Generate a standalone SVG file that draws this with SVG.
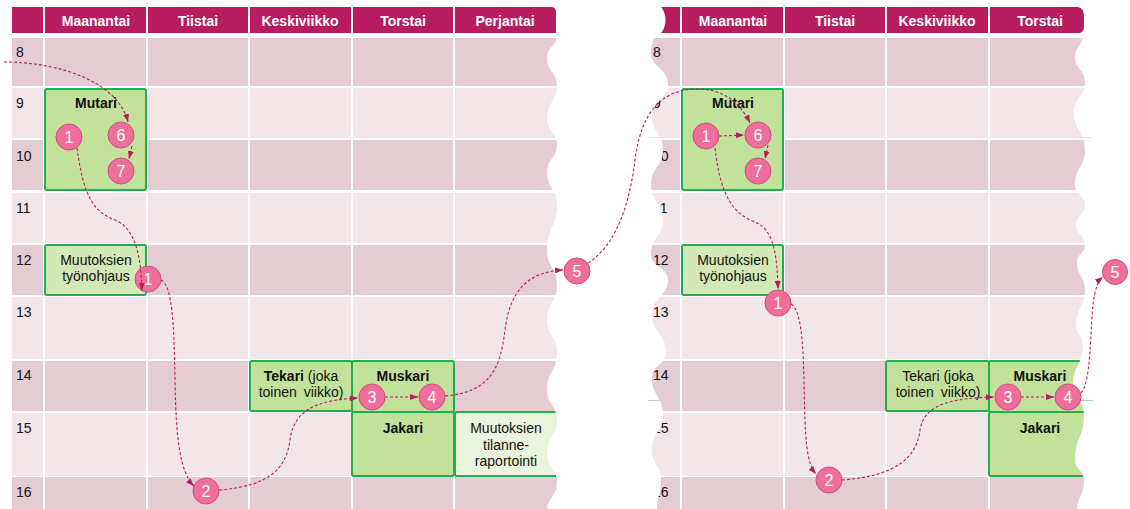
<svg xmlns="http://www.w3.org/2000/svg" width="1130" height="509" viewBox="0 0 1130 509">
<defs>
<style>
.hd{fill:#b71c5f}
.dk{fill:#e5cbd2}
.lt{fill:#f3e6e9}
.gap{stroke:#fff;stroke-width:2}
.ht{font-family:"Liberation Sans",Arial,sans-serif;font-size:14px;font-weight:bold;fill:#fff;text-anchor:middle}
.rl{font-family:"Liberation Sans",Arial,sans-serif;font-size:14px;fill:#111}
.box{fill:#c2e29b;stroke:#22ad50;stroke-width:2}
.box2{fill:#d3e8b4;stroke:#22ad50;stroke-width:2}
.box3{fill:#eaf4dd;stroke:#22ad50;stroke-width:2}
.bt{font-family:"Liberation Sans",Arial,sans-serif;font-size:14px;fill:#111;text-anchor:middle}
.b{font-weight:bold}
.cir{fill:#f06e9b;stroke:#c8507e;stroke-width:1}
.ct{font-family:"Liberation Sans",Arial,sans-serif;font-size:16px;fill:#fff;text-anchor:middle}
.arr{fill:none;stroke:#b81d62;stroke-width:1.1;stroke-dasharray:3 2;marker-end:url(#ah)}
.wh{fill:#fff}
</style>
<marker id="ah" viewBox="0 0 8 6" refX="8" refY="3" markerWidth="8" markerHeight="6" markerUnits="userSpaceOnUse" orient="auto"><path d="M0,0 L8,3 L0,6 z" fill="#b81d62"/></marker>
</defs>
<rect width="1130" height="509" fill="#fff"/>

<g id="table-left">
  <rect class="hd" x="12" y="7" width="31" height="26"/>
  <rect class="hd" x="45" y="7" width="101" height="26"/>
  <rect class="hd" x="148" y="7" width="100" height="26"/>
  <rect class="hd" x="250" y="7" width="101" height="26"/>
  <rect class="hd" x="353" y="7" width="100" height="26"/>
  <path class="hd" d="M455,7 L551,7 Q556,7 556,12 L556,33 L455,33 Z"/>
  <text class="ht" x="96" y="26">Maanantai</text>
  <text class="ht" x="198" y="26">Tiistai</text>
  <text class="ht" x="300" y="26">Keskiviikko</text>
  <text class="ht" x="403" y="26">Torstai</text>
  <text class="ht" x="505" y="26">Perjantai</text>
  <rect class="dk" x="12" y="38" width="550" height="48"/>
  <rect class="lt" x="12" y="88" width="550" height="50"/>
  <rect class="dk" x="12" y="140" width="550" height="50"/>
  <rect class="lt" x="12" y="193" width="550" height="50"/>
  <rect class="dk" x="12" y="245" width="550" height="50"/>
  <rect class="lt" x="12" y="297" width="550" height="62"/>
  <rect class="dk" x="12" y="361" width="550" height="50"/>
  <rect class="lt" x="12" y="413" width="550" height="63"/>
  <rect class="dk" x="12" y="477" width="550" height="35"/>
  <g class="gap">
    <line x1="44" y1="36" x2="44" y2="509"/>
    <line x1="147" y1="36" x2="147" y2="509"/>
    <line x1="249" y1="36" x2="249" y2="509"/>
    <line x1="352" y1="36" x2="352" y2="509"/>
    <line x1="454" y1="36" x2="454" y2="509"/>
  </g>
  <text class="rl" x="16" y="57">8</text>
  <text class="rl" x="16" y="108">9</text>
  <text class="rl" x="16" y="161">10</text>
  <text class="rl" x="16" y="213">11</text>
  <text class="rl" x="16" y="265">12</text>
  <text class="rl" x="16" y="317">13</text>
  <text class="rl" x="16" y="380">14</text>
  <text class="rl" x="16" y="433">15</text>
  <text class="rl" x="16" y="497">16</text>
</g>

<g id="table-right">
  <path class="hd" d="M680,7 L661,7 C667,14 667,26 661,33 L680,33 Z"/>
  <rect class="hd" x="682" y="7" width="101" height="26"/>
  <rect class="hd" x="785" y="7" width="100" height="26"/>
  <rect class="hd" x="887" y="7" width="101" height="26"/>
  <path class="hd" d="M990,7 L1078,7 Q1084,8 1084,16 L1084,26 Q1084,33 1079,33 L990,33 Z"/>
  <text class="ht" x="733" y="26">Maanantai</text>
  <text class="ht" x="835" y="26">Tiistai</text>
  <text class="ht" x="937" y="26">Keskiviikko</text>
  <text class="ht" x="1040" y="26">Torstai</text>
  <rect class="dk" x="645" y="38" width="450" height="48"/>
  <rect class="lt" x="645" y="88" width="450" height="50"/>
  <rect class="dk" x="645" y="140" width="450" height="50"/>
  <rect class="lt" x="645" y="193" width="450" height="50"/>
  <rect class="dk" x="645" y="245" width="450" height="50"/>
  <rect class="lt" x="645" y="297" width="450" height="62"/>
  <rect class="dk" x="645" y="361" width="450" height="50"/>
  <rect class="lt" x="645" y="413" width="450" height="63"/>
  <rect class="dk" x="645" y="477" width="450" height="35"/>
  <g class="gap">
    <line x1="681" y1="36" x2="681" y2="509"/>
    <line x1="784" y1="36" x2="784" y2="509"/>
    <line x1="886" y1="36" x2="886" y2="509"/>
    <line x1="989" y1="36" x2="989" y2="509"/>
  </g>
  <text class="rl" x="653" y="57">8</text>
  <text class="rl" x="653" y="108">9</text>
  <text class="rl" x="653" y="161">10</text>
  <text class="rl" x="653" y="213">11</text>
  <text class="rl" x="653" y="265">12</text>
  <text class="rl" x="653" y="317">13</text>
  <text class="rl" x="653" y="380">14</text>
  <text class="rl" x="653" y="433">15</text>
  <text class="rl" x="653" y="497">16</text>
</g>

<g id="mutari-l"><rect class="box" x="45" y="89" width="101" height="101" rx="2"/><text class="bt b" x="96" y="108">Mutari</text></g>
<g id="tyonohjaus-l"><rect class="box2" x="45" y="245" width="101" height="50" rx="2"/><text class="bt" x="96" y="265">Muutoksien</text><text class="bt" x="96" y="281">työnohjaus</text></g>
<g id="tekari-l"><rect class="box" x="250" y="361" width="102" height="50" rx="2"/><text class="bt" x="301" y="381"><tspan class="b">Tekari</tspan> (joka</text><text class="bt" x="301" y="397" word-spacing="3">toinen viikko)</text></g>
<g id="muskari-l"><rect class="box" x="352" y="361" width="102" height="51" rx="2"/><text class="bt b" x="403" y="381">Muskari</text></g>
<g id="jakari-l"><rect class="box" x="352" y="412" width="102" height="64" rx="2"/><text class="bt b" x="403" y="433">Jakari</text></g>
<g id="raportointi-l"><rect class="box3" x="455" y="412" width="112" height="64" rx="2"/><text class="bt" x="506" y="433">Muutoksien</text><text class="bt" x="506" y="450">tilanne-</text><text class="bt" x="506" y="466">raportointi</text></g>

<g id="mutari-r"><rect class="box" x="682" y="89" width="101" height="101" rx="2"/><text class="bt b" x="733" y="108">Mutari</text></g>
<g id="tyonohjaus-r"><rect class="box2" x="682" y="245" width="101" height="50" rx="2"/><text class="bt" x="733" y="265">Muutoksien</text><text class="bt" x="733" y="281">työnohjaus</text></g>
<g id="tekari-r"><rect class="box" x="886" y="361" width="103" height="50" rx="2"/><text class="bt" x="938" y="381">Tekari (joka</text><text class="bt" x="938" y="397" word-spacing="3">toinen viikko)</text></g>
<g id="muskari-r"><rect class="box" x="989" y="361" width="104" height="51" rx="2"/><text class="bt b" x="1040" y="381">Muskari</text></g>
<g id="jakari-r"><rect class="box" x="989" y="412" width="104" height="64" rx="2"/><text class="bt b" x="1040" y="433">Jakari</text></g>

<g id="torn-edges">
  <path class="wh" d="M600,35 L557,35 C557,46.5 547,46.5 547,58 C547,72 557,72 557,86 C557,102 547,102 547,118 C547,131.5 557,131.5 557,145 C557,158.5 547,158.5 547,172 C547,188.5 557,188.5 557,205 C557,227.5 547,227.5 547,250 C547,267.5 557,267.5 557,285 C557,302.5 547,302.5 547,320 C547,336 557,336 557,352 C557,371 547,371 547,390 C547,405 557,405 557,420 C557,436.5 547,436.5 547,453 C547,467.5 557,467.5 557,482 C557,497 547,497 547,512 L600,512 Z"/>
  <path class="wh" d="M600,35 L654,35 C654,43 651,43 651,52 C651,68 668,68 668,84 C668,100 652,100 652,117 C652,133 663,133 663,150 C663,167 651,167 651,185 C651,202 663,202 663,220 C663,237 651,237 651,255 C651,267 668,267 668,280 C668,297 652,297 652,315 C652,333 666,333 666,352 C666,365 652,365 652,378 C652,396 663,396 663,415 C663,432 652,432 652,450 C652,465 661,465 661,480 C661,495 657,495 657,512 L600,512 Z"/>
  <path class="wh" d="M1130,35 L1083,35 C1083,46 1075,46 1075,57 C1075,69.5 1085,69.5 1085,82 C1085,97 1074,97 1074,112 C1074,131 1085,131 1085,150 C1085,167.5 1075,167.5 1075,185 C1075,195 1085,195 1085,205 C1085,215 1076,215 1076,225 C1076,235 1085,235 1085,245 C1085,253.5 1077,253.5 1077,262 C1077,276 1085,276 1085,290 C1085,307.5 1076,307.5 1076,325 C1076,335 1083,335 1083,345 C1083,365 1073,365 1073,385 C1073,400 1084,400 1084,415 C1084,437.5 1075,437.5 1075,460 C1075,470 1084,470 1084,480 C1084,496 1077,496 1077,512 L1130,512 Z"/>
  <line x1="1080" y1="137.5" x2="1092" y2="137.5" stroke="#ecdfe3" stroke-width="1"/>
  <line x1="648" y1="137.5" x2="662" y2="137.5" stroke="#ece4e6" stroke-width="1"/>
  <line x1="648" y1="400.5" x2="663" y2="400.5" stroke="#dcc7cd" stroke-width="1"/>
  <line x1="1080" y1="400.5" x2="1093" y2="400.5" stroke="#9fd8a6" stroke-width="1"/>
</g>

<g id="step-l1a"><circle class="cir" cx="69" cy="137" r="13"/><text class="ct" x="69" y="143">1</text></g>
<g id="step-l6"><circle class="cir" cx="121" cy="135" r="13"/><text class="ct" x="121" y="141">6</text></g>
<g id="step-l7"><circle class="cir" cx="121" cy="171" r="13"/><text class="ct" x="121" y="177">7</text></g>
<g id="step-l1b"><circle class="cir" cx="148" cy="279" r="13"/><text class="ct" x="148" y="285">1</text></g>
<g id="step-l2"><circle class="cir" cx="206" cy="491" r="13"/><text class="ct" x="206" y="497">2</text></g>
<g id="step-l3"><circle class="cir" cx="372" cy="397" r="13"/><text class="ct" x="372" y="403">3</text></g>
<g id="step-l4"><circle class="cir" cx="432" cy="397" r="13"/><text class="ct" x="432" y="403">4</text></g>
<g id="step-l5"><circle class="cir" cx="577" cy="271" r="13"/><text class="ct" x="577" y="277">5</text></g>

<g id="step-r1a"><circle class="cir" cx="706" cy="136" r="13"/><text class="ct" x="706" y="142">1</text></g>
<g id="step-r6"><circle class="cir" cx="758" cy="135" r="13"/><text class="ct" x="758" y="141">6</text></g>
<g id="step-r7"><circle class="cir" cx="758" cy="171" r="13"/><text class="ct" x="758" y="177">7</text></g>
<g id="step-r1b"><circle class="cir" cx="778" cy="303" r="13"/><text class="ct" x="778" y="309">1</text></g>
<g id="step-r2"><circle class="cir" cx="829" cy="480" r="13"/><text class="ct" x="829" y="486">2</text></g>
<g id="step-r3"><circle class="cir" cx="1008" cy="397" r="13"/><text class="ct" x="1008" y="403">3</text></g>
<g id="step-r4"><circle class="cir" cx="1068" cy="397" r="13"/><text class="ct" x="1068" y="403">4</text></g>
<g id="step-r5"><circle class="cir" cx="1115" cy="272" r="12.5"/><text class="ct" x="1115" y="278">5</text></g>

<g id="connectors">
  <path class="arr" d="M4,62 C60,62 118,82 128,122"/>
  <path class="arr" d="M132,146 L129,159"/>
  <path class="arr" d="M77,148 C84,200 95,212 115,220 C135,228 141,255 142,291"/>
  <path class="arr" d="M161,280 C172,285 174,320 175,380 C176,440 180,472 194,486"/>
  <path class="arr" d="M219,490 C268,486 286,470 290,440 C294,408 320,400 358,398"/>
  <path class="arr" d="M385,397 L418,397"/>
  <path class="arr" d="M445,396 C488,392 500,372 505,330 C510,290 528,272 563,270"/>
  <path class="arr" d="M588,263 C618,244 630,200 635,160 C641,112 662,90 695,89 C724,88 741,104 750,123"/>
  <path class="arr" d="M719,136 L744,135"/>
  <path class="arr" d="M768,145 L765,159"/>
  <path class="arr" d="M715,148 C721,200 735,214 755,222 C775,230 777,258 778,289"/>
  <path class="arr" d="M791,304 C801,310 803,340 804,380 C805,440 806,462 816,474"/>
  <path class="arr" d="M842,480 C898,476 917,456 920,430 C924,402 958,398 994,397"/>
  <path class="arr" d="M1021,397 L1054,397"/>
  <path class="arr" d="M1081,393 C1091,382 1090,335 1093,305 C1095,288 1098,281 1103,277"/>
</g>
</svg>
